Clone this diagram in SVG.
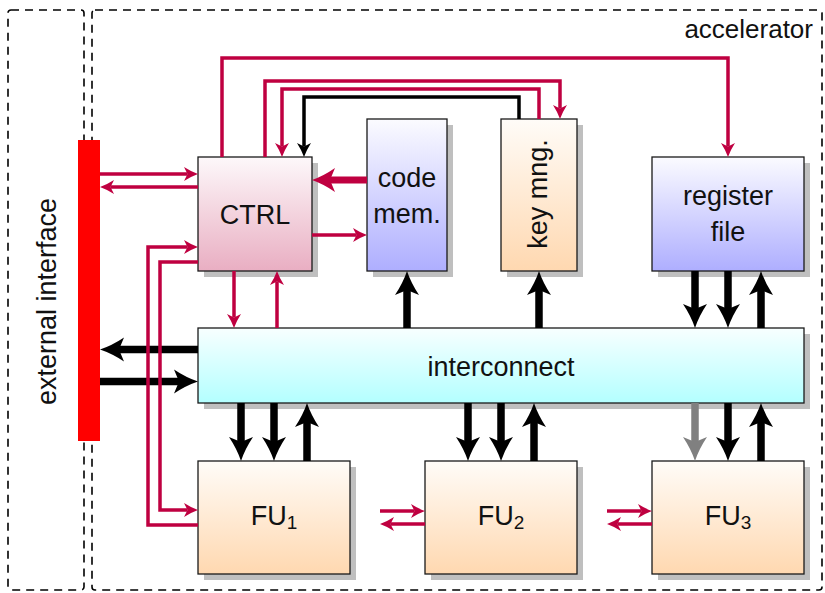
<svg xmlns="http://www.w3.org/2000/svg" width="825" height="593" viewBox="0 0 825 593">
<defs>
<linearGradient id="gPink" x1="0" y1="0" x2="0" y2="1"><stop offset="0" stop-color="#fdf8fa"/><stop offset="1" stop-color="#e9aec2"/></linearGradient>
<linearGradient id="gBlue" x1="0" y1="0" x2="0" y2="1"><stop offset="0" stop-color="#fbfbff"/><stop offset="1" stop-color="#aeaeff"/></linearGradient>
<linearGradient id="gOrange" x1="0" y1="0" x2="0" y2="1"><stop offset="0" stop-color="#fffcf8"/><stop offset="1" stop-color="#ffd8b0"/></linearGradient>
<linearGradient id="gCyan" x1="0" y1="0" x2="0" y2="1"><stop offset="0" stop-color="#f8ffff"/><stop offset="1" stop-color="#b3ffff"/></linearGradient>
<marker id="ahRed" markerUnits="userSpaceOnUse" markerWidth="16" markerHeight="16" refX="3.5" refY="7" orient="auto" overflow="visible"><path d="M0,0 Q7,4.5 14,7 Q7,9.5 0,14 L3.5,7 Z" fill="#bf0040"/></marker>
<marker id="ahBlk" markerUnits="userSpaceOnUse" markerWidth="16" markerHeight="16" refX="3.5" refY="7" orient="auto" overflow="visible"><path d="M0,0 Q7,4.5 14,7 Q7,9.5 0,14 L3.5,7 Z" fill="#000"/></marker>
<marker id="ahRedThick" markerUnits="userSpaceOnUse" markerWidth="26" markerHeight="26" refX="5" refY="12" orient="auto" overflow="visible"><path d="M0,0 Q11.5,8 23,12 Q11.5,16 0,24 L5,12 Z" fill="#bf0040"/></marker>
<marker id="ahBig" markerUnits="userSpaceOnUse" markerWidth="26" markerHeight="26" refX="5" refY="12" orient="auto" overflow="visible"><path d="M0,0 Q12,8 24,12 Q12,16 0,24 L5,12 Z" fill="#000"/></marker>
<marker id="ahGray" markerUnits="userSpaceOnUse" markerWidth="26" markerHeight="26" refX="5" refY="12" orient="auto" overflow="visible"><path d="M0,0 Q12,8 24,12 Q12,16 0,24 L5,12 Z" fill="#808080"/></marker>
</defs>
<style>
.frame{fill:none;stroke:#000;stroke-width:1.6;stroke-dasharray:8 6}
.shadow{fill:#bfbfbf}
.box{stroke:#1a1a1a;stroke-width:1.3}
.lbl{font-family:"Liberation Sans",Arial,sans-serif;font-size:27px;fill:#111;text-anchor:middle}
.red{fill:none;stroke:#bf0040;stroke-width:3.5;marker-end:url(#ahRed)}
.redplain{fill:none;stroke:#bf0040;stroke-width:3.5}
.redthick{fill:none;stroke:#bf0040;stroke-width:7;marker-end:url(#ahRedThick)}
.blk{fill:none;stroke:#000;stroke-width:3.5;marker-end:url(#ahBlk)}
.big{fill:none;stroke:#000;stroke-width:7.5;marker-end:url(#ahBig)}
.gray{fill:none;stroke:#808080;stroke-width:7.5;marker-end:url(#ahGray)}
</style>
<rect width="825" height="593" fill="#fff"/>
<g id="frames">
<rect class="frame" x="8" y="10" width="76" height="580" rx="3"/>
<rect class="frame" x="92" y="10" width="730" height="580" rx="3"/>
<text class="lbl" x="813" y="38" style="text-anchor:end;font-size:26px">accelerator</text>
</g>
<g id="ext">
<rect x="78" y="140" width="22" height="301" fill="#ff0000"/>
<text class="lbl" transform="translate(56,301.5) rotate(-90)">external interface</text>
</g>
<g id="ctrl">
<rect class="shadow" x="204" y="163" width="114" height="114"/>
<rect class="box" x="198" y="157" width="114" height="114" fill="url(#gPink)"/>
<text class="lbl" x="255" y="224">CTRL</text>
</g>
<g id="codemem">
<rect class="shadow" x="373" y="125" width="80" height="152"/>
<rect class="box" x="367" y="119" width="80" height="152" fill="url(#gBlue)"/>
<text class="lbl" x="407" y="187">code</text>
<text class="lbl" x="407" y="222.5">mem.</text>
</g>
<g id="keymng">
<rect class="shadow" x="507" y="125" width="76" height="152"/>
<rect class="box" x="501" y="119" width="76" height="152" fill="url(#gOrange)"/>
<text class="lbl" transform="translate(547,194) rotate(-90)">key mng.</text>
</g>
<g id="regfile">
<rect class="shadow" x="658" y="163" width="152" height="114"/>
<rect class="box" x="652" y="157" width="152" height="114" fill="url(#gBlue)"/>
<text class="lbl" x="728" y="205">register</text>
<text class="lbl" x="728" y="241">file</text>
</g>
<g id="interconnect">
<rect class="shadow" x="204" y="334" width="606" height="75"/>
<rect class="box" x="198" y="328" width="606" height="75" fill="url(#gCyan)"/>
<text class="lbl" x="501" y="376">interconnect</text>
</g>
<g id="fu1">
<rect class="shadow" x="204" y="467" width="152" height="113"/>
<rect class="box" x="198" y="461" width="152" height="113" fill="url(#gOrange)"/>
<text class="lbl" x="274" y="525">FU<tspan font-size="19" dy="4">1</tspan></text>
</g>
<g id="fu2">
<rect class="shadow" x="431" y="467" width="152" height="113"/>
<rect class="box" x="425" y="461" width="152" height="113" fill="url(#gOrange)"/>
<text class="lbl" x="501" y="525">FU<tspan font-size="19" dy="4">2</tspan></text>
</g>
<g id="fu3">
<rect class="shadow" x="658" y="467" width="152" height="113"/>
<rect class="box" x="652" y="461" width="152" height="113" fill="url(#gOrange)"/>
<text class="lbl" x="728" y="525">FU<tspan font-size="19" dy="4">3</tspan></text>
</g>
<g id="connectors">
<path class="big" d="M198,349.5 H119"/>
<path class="big" d="M100,381.5 H179"/>
<path class="big" d="M407,328 V290"/>
<path class="big" d="M539,328 V290"/>
<path class="big" d="M695,271 V309"/>
<path class="big" d="M728,271 V309"/>
<path class="big" d="M761,328 V290"/>
<path class="big" d="M241,403 V442"/>
<path class="big" d="M274,403 V442"/>
<path class="big" d="M307,461 V422"/>
<path class="big" d="M468,403 V442"/>
<path class="big" d="M501,403 V442"/>
<path class="big" d="M534,461 V422"/>
<path class="gray" d="M695,403 V442"/>
<path class="big" d="M728,403 V442"/>
<path class="big" d="M761,461 V422"/>
<path class="blk" d="M519,119 V97 H304 V146.5"/>
<path class="red" d="M222,157 V58 H728 V146.5"/>
<path class="red" d="M265,157 V81 H560 V108.5"/>
<path class="red" d="M539,119 V89 H282 V146.5"/>
<path class="red" d="M100,174 H187.5"/>
<path class="red" d="M198,187 H110.5"/>
<path class="red" d="M198,525 H148 V247 H187.5"/>
<path class="red" d="M198,262 H160 V510 H187.5"/>
<path class="red" d="M312,235 H356.5"/>
<path class="red" d="M234,271 V317.5"/>
<path class="red" d="M277,328 V281.5"/>
<path class="redthick" d="M367,180 H330"/>
<path class="red" d="M380,511 H414.5"/>
<path class="red" d="M425,524 H390.5"/>
<path class="red" d="M607,511 H641.5"/>
<path class="red" d="M652,524 H617.5"/>
</g>
</svg>
